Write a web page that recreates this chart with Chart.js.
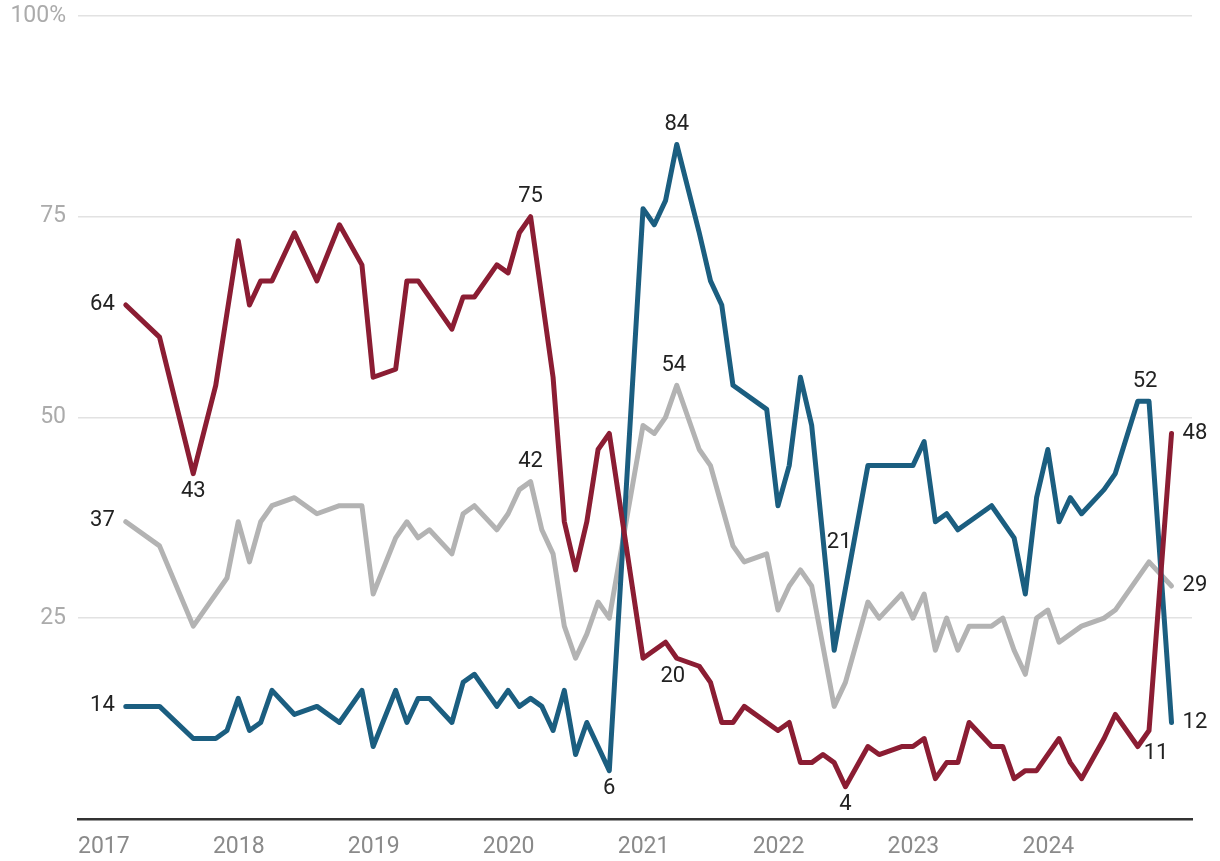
<!DOCTYPE html>
<html>
<head>
<meta charset="utf-8">
<script src="https://cdn.jsdelivr.net/npm/chart.js@4.4.1/dist/chart.umd.min.js"></script>
<style>
  html, body { margin: 0; padding: 0; background: #ffffff; }
  canvas { display: block; }
</style>
</head>
<body>
<canvas id="chart" width="1220" height="861"></canvas>
<script>
// ---- data ----
const months = [
  '2017-05','2017-08','2017-11','2018-01','2018-02','2018-03','2018-04','2018-05','2018-06','2018-08',
  '2018-10','2018-12','2019-02','2019-03','2019-05','2019-06','2019-07','2019-08','2019-10','2019-11',
  '2019-12','2020-02','2020-03','2020-04','2020-05','2020-06','2020-07','2020-08','2020-09','2020-10',
  '2020-11','2020-12','2021-03','2021-04','2021-05','2021-06','2021-08','2021-09','2021-10','2021-11',
  '2021-12','2022-02','2022-03','2022-04','2022-05','2022-06','2022-07','2022-08','2022-09','2022-11',
  '2022-12','2023-02','2023-03','2023-04','2023-05','2023-06','2023-07','2023-08','2023-10','2023-11',
  '2023-12','2024-01','2024-02','2024-03','2024-04','2024-05','2024-06','2024-08','2024-09','2024-11',
  '2024-12','2025-02'
];
const republicans = [
  64,60,43,54,null,72,64,67,67,73,
  67,74,69,55,56,67,67,null,61,65,
  65,69,68,73,75,65,55,37,31,37,
  46,48,20,null,22,20,19,17,12,12,
  14,null,11,12,7,7,8,7,4,9,
  8,9,9,10,5,7,7,12,9,9,
  5,6,6,null,10,7,5,10,13,9,
  11,48
];
const democrats = [
  14,14,10,10,11,15,11,12,16,13,
  14,12,16,9,16,12,15,15,12,17,
  18,14,16,14,15,14,11,16,8,12,
  9,6,76,74,77,84,73,67,64,54,
  null,51,39,44,55,49,null,21,null,44,
  44,44,44,47,37,38,36,null,39,null,
  35,28,40,46,37,40,38,41,43,52,
  52,12
];
const independents = [
  37,34,24,null,30,37,32,37,39,40,
  38,39,39,28,35,37,35,36,33,38,
  39,36,38,41,42,36,33,24,20,23,
  27,25,49,48,50,54,46,44,39,34,
  32,33,26,29,31,29,null,14,17,27,
  25,28,25,28,21,25,21,24,24,25,
  21,18,25,26,22,null,24,25,26,null,
  32,29
];
const yearTicks = [2017, 2018, 2019, 2020, 2021, 2022, 2023, 2024];
const yTickValues = [0, 25, 50, 75, 100];

// ---- styling ----
const RED = '#8b1d33';
const BLUE = '#1b5e80';
const GREY = '#b3b3b3';
const FONT = 'Roboto';

// labels to annotate: dataset index, month, placement
const annotations = [
  { ds: 0, month: '2017-05', pos: 'left' },
  { ds: 0, month: '2017-11', pos: 'below' },
  { ds: 0, month: '2020-05', pos: 'above' },
  { ds: 0, month: '2021-06', pos: 'below', dx: -4 },
  { ds: 0, month: '2022-09', pos: 'below' },
  { ds: 0, month: '2024-12', pos: 'custom', dx: 7, dy: 23 },
  { ds: 0, month: '2025-02', pos: 'right' },
  { ds: 1, month: '2017-05', pos: 'left' },
  { ds: 1, month: '2020-12', pos: 'below' },
  { ds: 1, month: '2021-06', pos: 'above' },
  { ds: 1, month: '2022-08', pos: 'custom', dx: 5, dy: -108 },
  { ds: 1, month: '2024-12', pos: 'above', dx: -4 },
  { ds: 1, month: '2025-02', pos: 'right' },
  { ds: 2, month: '2017-05', pos: 'left' },
  { ds: 2, month: '2020-05', pos: 'above' },
  { ds: 2, month: '2021-06', pos: 'above', dx: -3 },
  { ds: 2, month: '2025-02', pos: 'right' }
];

function toDecimalYear(s) {
  const [y, m] = s.split('-').map(Number);
  return y + (m - 1 + 0.25) / 12;
}
function series(values) {
  return months.map((m, i) => ({ x: toDecimalYear(m), y: values[i] }));
}

const labelPlugin = {
  id: 'endLabels',
  afterDatasetsDraw(chart) {
    const ctx = chart.ctx;
    ctx.save();
    ctx.font = '22px ' + FONT;
    ctx.fillStyle = '#222222';
    annotations.forEach(a => {
      const meta = chart.getDatasetMeta(a.ds);
      const idx = months.indexOf(a.month);
      const el = meta.data[idx];
      if (!el) return;
      const val = chart.data.datasets[a.ds].data[idx].y;
      const text = String(val);
      let x = el.x, y = el.y;
      let align = 'center';
      if (a.pos === 'left') { x -= 11; y -= 1; align = 'right'; }
      else if (a.pos === 'right') { x += 11; align = 'left'; }
      else if (a.pos === 'above') { y -= 20; }
      else if (a.pos === 'below') { y += 18; }
      if (a.dx) x += a.dx;
      if (a.dy) y += a.dy;
      ctx.textAlign = align;
      ctx.textBaseline = 'middle';
      ctx.fillText(text, x, y);
    });
    ctx.restore();
  }
};

const lineStyle = {
  borderWidth: 5,
  pointRadius: 0,
  pointHoverRadius: 0,
  tension: 0,
  spanGaps: true,
  borderJoinStyle: 'round',
  borderCapStyle: 'round',
  fill: false
};

new Chart(document.getElementById('chart'), {
  type: 'line',
  data: {
    datasets: [
      Object.assign({ label: 'Republicans', data: series(republicans), borderColor: RED, order: 0 }, lineStyle),
      Object.assign({ label: 'Democrats', data: series(democrats), borderColor: BLUE, order: 1 }, lineStyle),
      Object.assign({ label: 'Independents', data: series(independents), borderColor: GREY, order: 2 }, lineStyle)
    ]
  },
  options: {
    responsive: false,
    animation: false,
    devicePixelRatio: 1,
    layout: { padding: { left: 0, top: 16, right: 28, bottom: 0 } },
    plugins: { legend: { display: false }, tooltip: { enabled: false } },
    events: [],
    scales: {
      x: {
        type: 'linear',
        min: 2017,
        max: 2025.256,
        afterBuildTicks(scale) { scale.ticks = yearTicks.map(v => ({ value: v })); },
        afterFit(scale) { scale.height = 42.2; scale.paddingLeft = 0; scale.paddingRight = 0; },
        grid: { display: false, drawTicks: false },
        border: { display: true, color: '#333333', width: 2.5 },
        ticks: {
          autoSkip: false,
          maxRotation: 0,
          align: 'start',
          padding: 15,
          color: '#8a8a8a',
          font: { family: FONT, size: 23 },
          callback: v => String(v)
        }
      },
      y: {
        type: 'linear',
        min: 0,
        max: 100,
        afterBuildTicks(scale) { scale.ticks = yTickValues.map(v => ({ value: v })); },
        afterFit(scale) { scale.width = 78; scale.paddingTop = 0; scale.paddingBottom = 0; },
        grid: {
          drawTicks: false,
          color: ctx => (ctx.tick && ctx.tick.value === 0) ? 'rgba(0,0,0,0)' : '#e2e2e2',
          lineWidth: 1.5
        },
        border: { display: false },
        ticks: {
          padding: 12,
          color: '#ababab',
          font: { family: FONT, size: 23 },
          callback: v => v === 0 ? '' : (v === 100 ? '100%' : String(v))
        }
      }
    }
  },
  plugins: [labelPlugin]
});
</script>
</body>
</html>
